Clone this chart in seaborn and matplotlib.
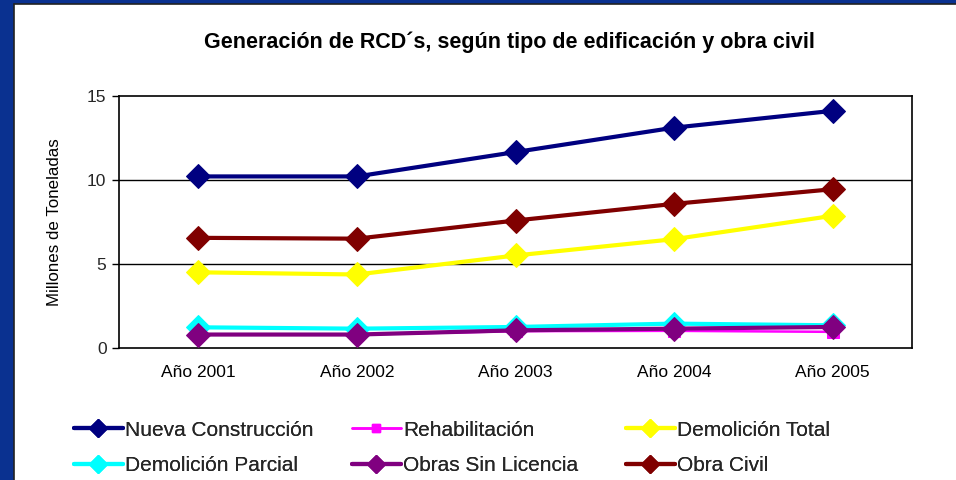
import matplotlib
matplotlib.use("Agg")
import matplotlib.pyplot as plt
import seaborn as sns
import pandas as pd
from matplotlib.patches import Rectangle
from matplotlib.lines import Line2D

years = ["Año 2001", "Año 2002", "Año 2003", "Año 2004", "Año 2005"]
nueva_construccion = [10.2, 10.2, 11.65, 13.1, 14.1]
rehabilitacion = [0.8, 0.8, 1.0, 1.02, 0.96]
demolicion_total = [4.5, 4.37, 5.5, 6.47, 7.86]
demolicion_parcial = [1.23, 1.15, 1.25, 1.45, 1.35]
obras_sin_licencia = [0.8, 0.8, 1.05, 1.15, 1.25]
obra_civil = [6.55, 6.5, 7.58, 8.57, 9.44]

series_names = ["Nueva Construcción", "Rehabilitación", "Demolición Total",
                "Demolición Parcial", "Obras Sin Licencia", "Obra Civil"]
series_values = [nueva_construccion, rehabilitacion, demolicion_total,
                 demolicion_parcial, obras_sin_licencia, obra_civil]
colors = ["#000080", "#FF00FF", "#FFFF00", "#00FFFF", "#800080", "#800000"]
markers = ["D", "s", "D", "D", "D", "D"]

rows = []
for name, vals in zip(series_names, series_values):
    for i, (yr, v) in enumerate(zip(years, vals)):
        rows.append({"Serie": name, "Año": yr, "idx": i, "Valor": v})
df = pd.DataFrame(rows)

sns.set_theme(style="white")
plt.rcParams["font.family"] = ["Liberation Sans", "DejaVu Sans"]

fig = plt.figure(figsize=(9.56, 4.8), dpi=100)
fig.patch.set_facecolor("white")
ax = fig.add_axes([119/956, 1-348/480, (912-119)/956, (348-95.7)/480])

for k, (name, col, mk) in enumerate(zip(series_names, colors, markers)):
    sub = df[df["Serie"] == name]
    ms = 9 if mk == "s" else 12
    lw = 1.8 if mk == "s" else 3
    sns.lineplot(data=sub, x="idx", y="Valor", ax=ax, color=col, marker=mk,
                 markersize=ms, markeredgecolor=col, linewidth=lw,
                 legend=False, zorder=3 + k)

ax.set_xlim(-0.5, 4.5)
ax.set_ylim(0, 15)
ax.set_yticks([0, 5, 10, 15])
ax.set_xticks(range(5))
ax.set_xticklabels(years)
ax.set_xticks([x - 0.5 for x in range(6)], minor=True)
ax.tick_params(axis="x", which="major", length=0, pad=12, labelsize=12.5, colors="black")
ax.tick_params(axis="x", which="minor", length=5, width=1, color="black", direction="out")
ax.tick_params(axis="y", which="major", length=5, width=1, color="black",
               direction="out", labelsize=12.5, pad=4, left=True)
ax.set_xlabel("")
ax.set_ylabel("Millones de Toneladas", fontsize=12.2, labelpad=18, color="black")
for y in [5, 10]:
    ax.axhline(y, color="black", linewidth=1, zorder=1)
for s in ax.spines.values():
    s.set_color("black")
    s.set_linewidth(1.2)
ax.grid(False)

fig.text(0.533, 1-42/480, "Generación de RCD´s, según tipo de edificación y obra civil",
         ha="center", va="center", fontsize=15.5, fontweight="bold", color="black")

handles = [Line2D([0], [0], color=c, marker=m, markersize=(6 if m == "s" else 9),
                  linewidth=(1.8 if m == "s" else 3), markeredgecolor=c)
           for c, m in zip(colors, markers)]
col_x = [74, 352, 626]
for j in range(3):
    idxs = [j, j + 3]
    lg = fig.legend([handles[i] for i in idxs], [series_names[i] for i in idxs],
                    ncol=1, loc="center left",
                    bbox_to_anchor=(col_x[j]/956, 1-448/480), frameon=False,
                    fontsize=15, handlelength=2.35, handletextpad=0.12,
                    labelspacing=0.8, borderpad=0, borderaxespad=0)
    fig.add_artist(lg)

# blue frame at left and top
fig.patches.append(Rectangle((0, 0), 14/956, 1, transform=fig.transFigure,
                             facecolor="#0A3190", edgecolor="none", zorder=0))
fig.patches.append(Rectangle((0, 1-4/480), 1, 4/480, transform=fig.transFigure,
                             facecolor="#0A3190", edgecolor="none", zorder=0))
fig.lines.append(Line2D([14/956, 14/956], [0, 1-4/480], transform=fig.transFigure,
                        color="#222222", linewidth=1.2))
fig.lines.append(Line2D([14/956, 1], [1-4/480, 1-4/480], transform=fig.transFigure,
                        color="#222222", linewidth=1.2))

fig.savefig("out.png", dpi=100)
